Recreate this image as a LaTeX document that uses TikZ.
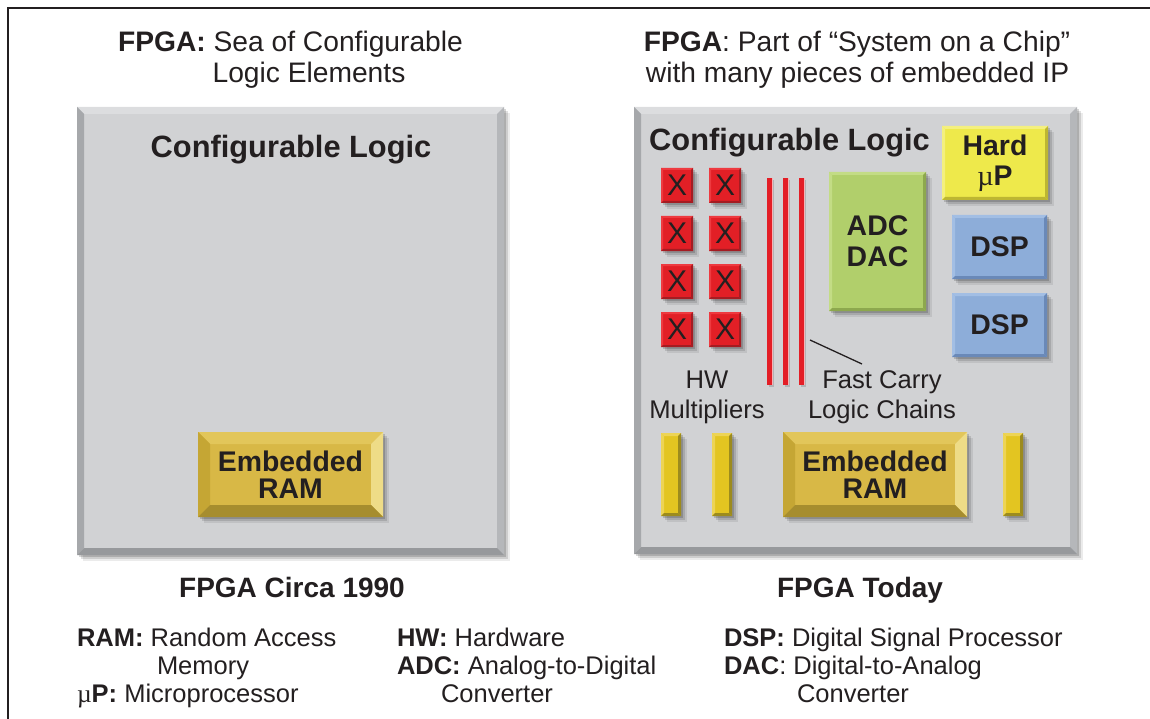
\documentclass[tikz,border=0pt]{standalone}
\usepackage{fontspec}
\setmainfont{Liberation Sans}
\newfontfamily\mufont{Liberation Serif}
\definecolor{ink}{HTML}{231F20}
\definecolor{pface}{HTML}{D1D2D4}
\definecolor{ptop}{HTML}{DCDDDF}
\definecolor{pleft}{HTML}{A6A8AB}
\definecolor{pright}{HTML}{B5B7BA}
\definecolor{pbot}{HTML}{97999C}
\definecolor{gface}{HTML}{D8B846}
\definecolor{gtop}{HTML}{E2C65A}
\definecolor{gleft}{HTML}{C5A634}
\definecolor{gright}{HTML}{EEDC87}
\definecolor{gbot}{HTML}{A68D2E}
\definecolor{rface}{HTML}{E21F26}
\definecolor{rlight}{HTML}{EE3A40}
\definecolor{rdark}{HTML}{A51C22}
\definecolor{yface}{HTML}{EEE94B}
\definecolor{ytop}{HTML}{F4F07E}
\definecolor{ydark}{HTML}{BDB632}
\definecolor{bface}{HTML}{8DADD9}
\definecolor{blight}{HTML}{A2BEE4}
\definecolor{bdark}{HTML}{6A89B8}
\definecolor{aface}{HTML}{B1CF6B}
\definecolor{alight}{HTML}{C3DC85}
\definecolor{adark}{HTML}{8DA84E}
\definecolor{barface}{HTML}{E3C521}
\definecolor{barlight}{HTML}{EDD455}
\definecolor{bardark}{HTML}{9C8B1E}
\definecolor{carry}{HTML}{E31E26}
\definecolor{carrylight}{HTML}{F6B3B5}
\newcommand\fsz[2]{\fontsize{#1}{#2}\selectfont}
\newcommand\mysym{{\mufont\mdseries µ}}
\tikzset{
  bev/.style n args={6}{fill=#1, path picture={
    \fill[#2] (path picture bounding box.north west) -- (path picture bounding box.north east)
      -- ([xshift=-#6,yshift=-#6]path picture bounding box.north east) -- ([xshift=#6,yshift=-#6]path picture bounding box.north west) -- cycle;
    \fill[#3] (path picture bounding box.north west) -- (path picture bounding box.south west)
      -- ([xshift=#6,yshift=#6]path picture bounding box.south west) -- ([xshift=#6,yshift=-#6]path picture bounding box.north west) -- cycle;
    \fill[#4] (path picture bounding box.north east) -- (path picture bounding box.south east)
      -- ([xshift=-#6,yshift=#6]path picture bounding box.south east) -- ([xshift=-#6,yshift=-#6]path picture bounding box.north east) -- cycle;
    \fill[#5] (path picture bounding box.south west) -- (path picture bounding box.south east)
      -- ([xshift=-#6,yshift=#6]path picture bounding box.south east) -- ([xshift=#6,yshift=#6]path picture bounding box.south west) -- cycle;
  }},
  shad/.style={
    preaction={fill=black,fill opacity=0.08,transform canvas={xshift=6pt,yshift=-6pt}},
    preaction={fill=black,fill opacity=0.12,transform canvas={xshift=4pt,yshift=-4pt}},
    preaction={fill=black,fill opacity=0.16,transform canvas={xshift=2pt,yshift=-2pt}}},
  panel/.style={shad, bev={pface}{ptop}{pleft}{pright}{pbot}{7pt}},
  rambox/.style={shad, bev={gface}{gtop}{gleft}{gright}{gbot}{12pt}, minimum width=185pt, minimum height=85pt,
    align=center, font=\bfseries\fsz{28.4}{27.5}},
  xbox/.style={shad, bev={rface}{rlight}{rlight}{rdark}{rdark}{2pt}, minimum width=32pt, minimum height=35pt, font=\fsz{30}{30}},
  hardbox/.style={shad, bev={yface}{ytop}{ytop}{ydark}{ydark}{3pt}, align=center, font=\bfseries\fsz{28.4}{30}},
  dspbox/.style={shad, bev={bface}{blight}{blight}{bdark}{bdark}{3pt}, minimum width=95pt, minimum height=64pt, font=\bfseries\fsz{28.4}{28}},
  adcbox/.style={shad, bev={aface}{alight}{alight}{adark}{adark}{3pt}, align=center, font=\bfseries\fsz{28.4}{31}},
  barbox/.style={shad, bev={barface}{barlight}{barlight}{bardark}{bardark}{3pt}, minimum width=20pt, minimum height=83pt},
  lbl/.style={anchor=base, font=\fsz{25.6}{25.6}},
  title/.style={anchor=base, font=\fsz{28.2}{28.2}},
  head/.style={anchor=base, font=\bfseries\fsz{30.8}{30.8}},
  captext/.style={anchor=base, font=\bfseries\fsz{28}{28}},
  leg/.style={anchor=base west, font=\fsz{25.5}{25.5}},
}
\begin{document}
\begin{tikzpicture}[x=1pt,y=-1pt, every node/.style={text=ink, inner sep=0pt, outer sep=0pt}]
\useasboundingbox (0,0) rectangle (1150,719);
\draw[ink, line width=2pt] (8,719) -- (8,8) -- (1150,8);

% titles
\node[title] (t1) at (290.5,51.7) {\textbf{FPGA:} Sea of Configurable};
\node[title] (t2) at (309,82.7) {Logic Elements};
\node[title] (t3) at (857,51.7) {\textbf{FPGA}: Part of “System on a Chip”};
\node[title] (t4) at (857.5,82.7) {with many pieces of embedded IP};

% panels
\node[panel, minimum width=427pt, minimum height=448pt] (lp) at (290.5,331) {};
\node[panel, minimum width=443pt, minimum height=447pt] (rp) at (855.5,330.5) {};

% left panel content
\node[head] (lh) at (291,158) {Configurable Logic};
\node[rambox] (lram) at (290.5,474.5) {Embedded\\RAM};

% right panel content
\node[head] (rh) at (789.5,150.7) {Configurable Logic};
\node[hardbox, minimum width=106pt, minimum height=74pt] (hard) at (995,163) {Hard\\\mysym P};
\node[dspbox] (dsp1) at (999.5,247) {DSP};
\node[dspbox] (dsp2) at (999.5,325) {DSP};
\node[adcbox, minimum width=97pt, minimum height=139pt] (adc) at (877.5,241.5) {ADC\\DAC};

\foreach \r/\y in {1/185.5,2/233.5,3/281.5,4/329.5}{
  \node[xbox] (xa\r) at (677,\y) {X};
  \node[xbox] (xb\r) at (725,\y) {X};
}

% fast carry chains
\foreach \x in {767,783,799}{
  \fill[black, opacity=0.15] (\x+2,180) rectangle (\x+7,387);
  \fill[carry] (\x,178) rectangle (\x+4.5,385);
  \fill[carrylight] (\x+4.5,178) rectangle (\x+6,385);
}
\coordinate (cl) at (810,340);
\coordinate (ct) at (862,364);
\draw[ink, line width=1.3pt] (cl) -- (ct);

\node[lbl] (hw) at (707,388) {HW};
\node[lbl] (mult) at (707,418) {Multipliers};
\node[lbl] (fc) at (882,388) {Fast Carry};
\node[lbl] (lc) at (882,418) {Logic Chains};

\node[barbox] (bar1) at (671,474.5) {};
\node[barbox] (bar2) at (722,474.5) {};
\node[barbox] (bar3) at (1013,474.5) {};
\node[rambox, minimum width=184pt] (rram) at (875,474.5) {Embedded\\RAM};

% captions
\node[captext] (c1) at (292,597) {FPGA Circa 1990};
\node[captext] (c2) at (860,597) {FPGA Today};

% legend
\node[leg] (g1) at (77,646) {\textbf{RAM:} Random Access};
\node[leg] (g2) at (157,674) {Memory};
\node[leg] (g3) at (77,702) {\mysym\textbf{P:} Microprocessor};
\node[leg] (g4) at (397,646) {\textbf{HW:} Hardware};
\node[leg] (g5) at (397,674) {\textbf{ADC:} Analog-to-Digital};
\node[leg] (g6) at (441,702) {Converter};
\node[leg] (g7) at (724,646) {\textbf{DSP:} Digital Signal Processor};
\node[leg] (g8) at (724,674) {\textbf{DAC}: Digital-to-Analog};
\node[leg] (g9) at (797,702) {Converter};
\end{tikzpicture}
\end{document}
